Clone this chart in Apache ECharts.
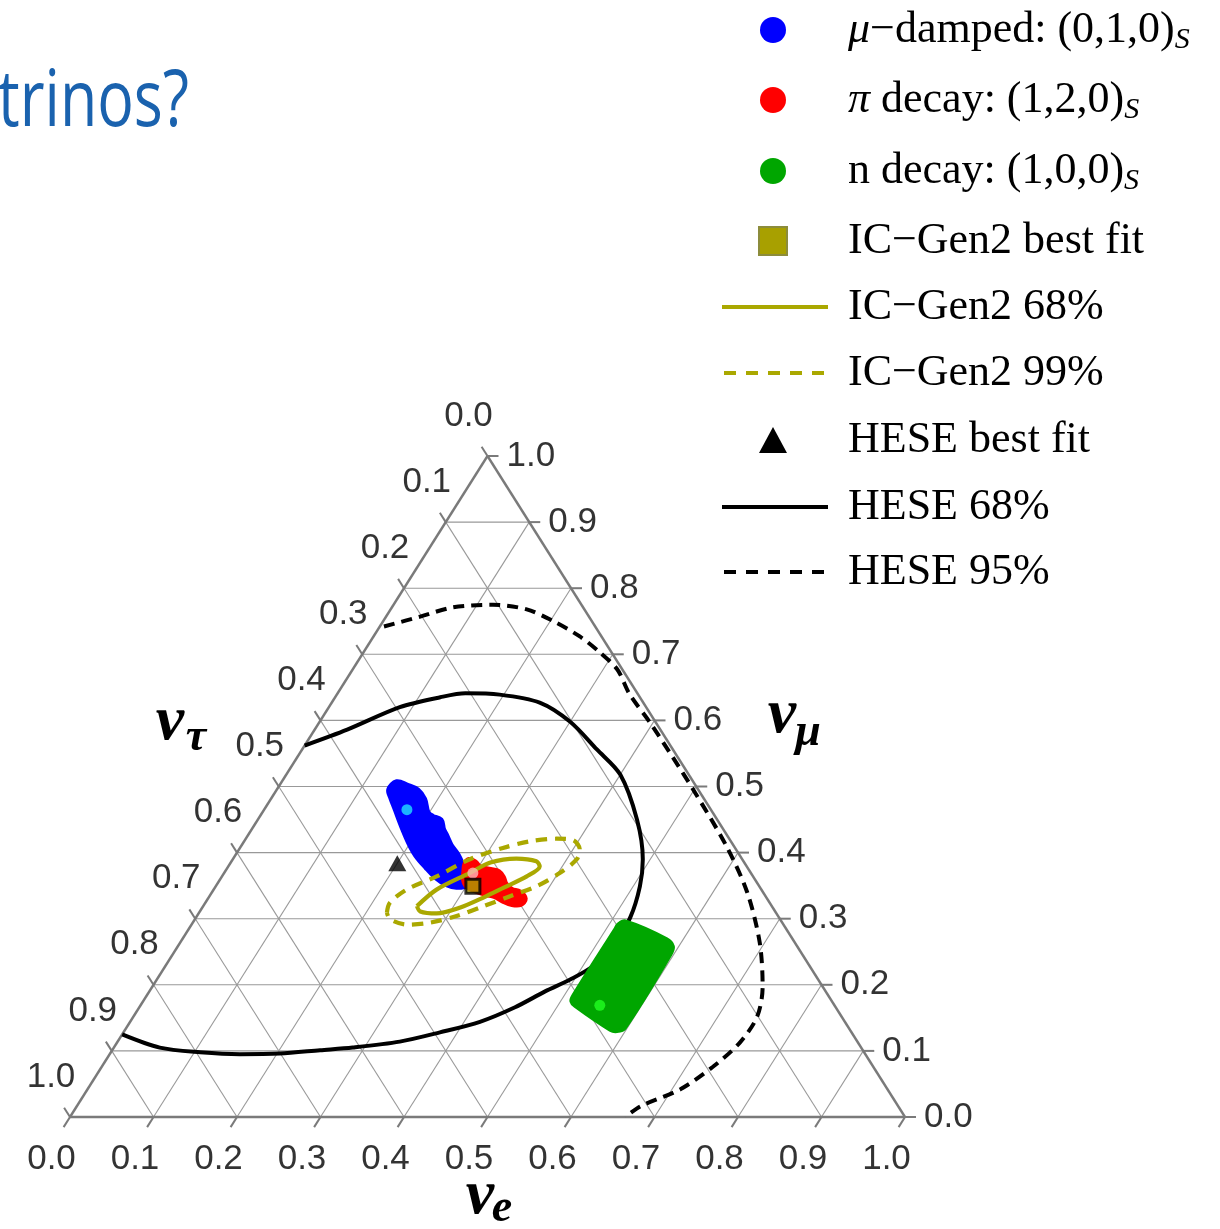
<!DOCTYPE html>
<html>
<head>
<meta charset="utf-8">
<script src="https://cdn.jsdelivr.net/npm/echarts@6/dist/echarts.min.js"></script>
<style>
html, body { margin: 0; padding: 0; background: #fff; }
#chart { width: 1220px; height: 1229px; }
</style>
</head>
<body>
<div id="chart"></div>
<script>
// Flavour compositions are stored as [f_e, f_mu]; f_tau = 1 - f_e - f_mu.
const tickValues = [0, 0.1, 0.2, 0.3, 0.4, 0.5, 0.6, 0.7, 0.8, 0.9, 1.0];
const tickLabels = ['0.0', '0.1', '0.2', '0.3', '0.4', '0.5', '0.6', '0.7', '0.8', '0.9', '1.0'];

// HESE 68% credible contour (open, runs from the left edge round to the left edge)
const hese68 = [
  [0.000, 0.562], [0.039, 0.586], [0.085, 0.620], [0.126, 0.635], [0.153, 0.641],
  [0.195, 0.639], [0.249, 0.627], [0.300, 0.598], [0.353, 0.556], [0.400, 0.518],
  [0.454, 0.450], [0.491, 0.390], [0.508, 0.349], [0.520, 0.302], [0.521, 0.264],
  [0.512, 0.228], [0.495, 0.208], [0.474, 0.190], [0.450, 0.166], [0.419, 0.144],
  [0.379, 0.128], [0.338, 0.114], [0.286, 0.105], [0.249, 0.101], [0.203, 0.096],
  [0.156, 0.095], [0.107, 0.098], [0.055, 0.105], [0.000, 0.125]
];

// HESE 95% credible contour
const hese95 = [
  [0.005, 0.742], [0.041, 0.757], [0.073, 0.771], [0.119, 0.775], [0.163, 0.768],
  [0.204, 0.750], [0.247, 0.727], [0.283, 0.703], [0.317, 0.677], [0.350, 0.640],
  [0.396, 0.597], [0.450, 0.544], [0.500, 0.494], [0.582, 0.409], [0.641, 0.340],
  [0.694, 0.264], [0.731, 0.197], [0.747, 0.152], [0.746, 0.113], [0.732, 0.076],
  [0.710, 0.042], [0.675, 0.016], [0.665, 0.000]
];

// IC-Gen2 projected 68% contour (closed)
const gen2_68 = [
  [0.256, 0.319], [0.267, 0.344], [0.294, 0.369], [0.311, 0.385], [0.339, 0.391],
  [0.365, 0.387], [0.373, 0.379], [0.365, 0.364], [0.346, 0.347], [0.329, 0.332],
  [0.309, 0.317], [0.285, 0.308], [0.264, 0.311], [0.256, 0.319]
];

// IC-Gen2 projected 99% contour (closed)
const gen2_99 = [
  [0.225, 0.309], [0.221, 0.324], [0.231, 0.344], [0.257, 0.364], [0.284, 0.390],
  [0.315, 0.407], [0.342, 0.417], [0.372, 0.421], [0.393, 0.419], [0.408, 0.405],
  [0.412, 0.390], [0.402, 0.369], [0.384, 0.349], [0.360, 0.334], [0.336, 0.319],
  [0.311, 0.304], [0.284, 0.294], [0.258, 0.291], [0.234, 0.299], [0.225, 0.309]
];

// Allowed regions at Earth for each source composition
const muDampedRegion = [
  [0.136, 0.495], [0.139, 0.505], [0.153, 0.500], [0.169, 0.493], [0.183, 0.480],
  [0.197, 0.460], [0.207, 0.453], [0.219, 0.448], [0.228, 0.435], [0.237, 0.425],
  [0.250, 0.410], [0.266, 0.395], [0.284, 0.374], [0.294, 0.362], [0.297, 0.352],
  [0.288, 0.350], [0.274, 0.354], [0.257, 0.364], [0.238, 0.379], [0.217, 0.397],
  [0.200, 0.415], [0.179, 0.440], [0.159, 0.465], [0.143, 0.485]
];
const piDecayRegion = [
  [0.283, 0.382], [0.284, 0.388], [0.292, 0.385], [0.302, 0.377], [0.317, 0.373],
  [0.328, 0.370], [0.337, 0.362], [0.345, 0.352], [0.357, 0.343], [0.369, 0.339],
  [0.379, 0.330], [0.378, 0.323], [0.368, 0.323], [0.355, 0.328], [0.341, 0.335],
  [0.330, 0.338], [0.318, 0.342], [0.302, 0.349], [0.293, 0.359], [0.287, 0.372]
];
const nDecayRegion = [
  [0.511, 0.291], [0.517, 0.296], [0.580, 0.269], [0.593, 0.258], [0.596, 0.246],
  [0.597, 0.135], [0.590, 0.130], [0.581, 0.132], [0.521, 0.168], [0.513, 0.175],
  [0.511, 0.183], [0.511, 0.284]
];

// Best-mixing compositions and best fits
const muDampedCentral = [0.171, 0.465];
const piDecayCentral = [0.298, 0.369];
const nDecayCentral = [0.550, 0.169];
const gen2BestFit = [0.308, 0.349];
const heseBestFit = [0.200, 0.384];

// ternary -> cartesian (x along the nu_e base, y = nu_mu height)
const toXY = p => [p[0] + p[1] / 2, p[1]];

const chart = echarts.init(document.getElementById('chart'), null, { renderer: 'canvas' });

const GRID_COLOR = '#999999';
const EDGE_COLOR = '#7a7a7a';
const OLIVE = '#aaa800';
const TICK_FONT = { fontFamily: 'Liberation Sans', fontSize: 35, color: '#000' };

function regionSeries(name, pts, color, edge, z) {
  return {
    type: 'custom', name, z, clip: false, silent: true,
    data: [[0, 0]],
    renderItem: (params, api) => ({
      type: 'polygon',
      shape: { points: pts.map(p => api.coord(toXY(p))), smooth: 0.35 },
      style: { fill: color, stroke: color, lineWidth: edge, lineJoin: 'round' }
    })
  };
}

function contourSeries(name, pts, color, width, dash, z) {
  return {
    type: 'line', name, z, clip: false, silent: true,
    data: pts.map(toXY),
    showSymbol: false, symbol: 'none', smooth: 0.3,
    lineStyle: { color, width, type: dash || 'solid', cap: 'butt' }
  };
}

function pointSeries(name, p, symbol, size, style, z) {
  return {
    type: 'scatter', name, z, clip: false, silent: true,
    data: [toXY(p)], symbol, symbolSize: size, itemStyle: style
  };
}

function tickLabelSeries(pointFn, align, offset) {
  return {
    type: 'scatter', z: 2, clip: false, silent: true,
    symbolSize: 0,
    data: tickValues.map((v, i) => ({ name: tickLabels[i], value: toXY(pointFn(v)) })),
    label: {
      show: true, position: 'inside', formatter: p => p.name,
      align, verticalAlign: 'middle', offset, ...TICK_FONT
    }
  };
}

// triangle frame, inner grid and tick stubs
const frameSeries = {
  type: 'custom', z: 1, clip: false, silent: true,
  data: [[0, 0]],
  renderItem: (params, api) => {
    const c = p => api.coord(toXY(p));
    const children = [];
    const seg = (a, b, color, w) => children.push({
      type: 'line', shape: { x1: a[0], y1: a[1], x2: b[0], y2: b[1] },
      style: { stroke: color, lineWidth: w }
    });
    tickValues.slice(1, -1).forEach(v => {
      seg(c([0, v]), c([1 - v, v]), GRID_COLOR, 1.1);      // constant nu_mu
      seg(c([v, 0]), c([v, 1 - v]), GRID_COLOR, 1.1);      // constant nu_e
      seg(c([0, 1 - v]), c([1 - v, 0]), GRID_COLOR, 1.1);  // constant nu_tau
    });
    seg(c([0, 0]), c([1, 0]), EDGE_COLOR, 2.4);
    seg(c([1, 0]), c([0, 1]), EDGE_COLOR, 2.4);
    seg(c([0, 1]), c([0, 0]), EDGE_COLOR, 2.4);
    tickValues.forEach(v => {
      const b = c([v, 0]);
      seg(b, [b[0] - 6.4, b[1] + 10.1], EDGE_COLOR, 2);
      const r = c([1 - v, v]);
      seg(r, [r[0] + 11, r[1]], EDGE_COLOR, 2);
      const l = c([0, 1 - v]);
      seg(l, [l[0] - 5.9, l[1] - 9.3], EDGE_COLOR, 2);
    });
    return { type: 'group', children };
  }
};

// legend rows
const LEG_X_MARK = 773, LEG_X_LINE0 = 722, LEG_X_LINE1 = 828, LEG_X_TEXT = 848;
const legendRows = [30, 100, 171, 241, 307, 373, 440, 507, 572];
const legendText = [
  '{i|μ}−damped: (0,1,0){s|S}',
  '{i|π} decay: (1,2,0){s|S}',
  'n decay: (1,0,0){s|S}',
  'IC−Gen2 best fit',
  'IC−Gen2 68%',
  'IC−Gen2 99%',
  'HESE best fit',
  'HESE 68%',
  'HESE 95%'
];
const legendFont = { fontFamily: 'Liberation Serif', fontSize: 44, fill: '#000' };
const legendRich = {
  i: { fontFamily: 'Liberation Serif', fontSize: 44, fontStyle: 'italic', lineHeight: 50 },
  s: { fontFamily: 'Liberation Serif', fontSize: 30, fontStyle: 'italic', lineHeight: 30, verticalAlign: 'bottom' }
};

const graphic = [];
legendText.forEach((t, i) => graphic.push({
  type: 'text', x: LEG_X_TEXT, y: legendRows[i],
  style: { text: t, ...legendFont, lineHeight: 50, verticalAlign: 'middle', align: 'left', rich: legendRich }
}));
[['#0000ff', 0], ['#ff0000', 1], ['#00a600', 2]].forEach(([col, i]) => graphic.push({
  type: 'circle', shape: { cx: LEG_X_MARK, cy: legendRows[i], r: 13 }, style: { fill: col }
}));
graphic.push({
  type: 'rect', shape: { x: LEG_X_MARK - 14, y: legendRows[3] - 14, width: 28, height: 28 },
  style: { fill: '#a8a000', stroke: '#8c8c3c', lineWidth: 2 }
});
graphic.push({
  type: 'line', shape: { x1: LEG_X_LINE0, y1: legendRows[4], x2: LEG_X_LINE1, y2: legendRows[4] },
  style: { stroke: OLIVE, lineWidth: 4 }
});
graphic.push({
  type: 'line', shape: { x1: LEG_X_LINE0 + 2, y1: legendRows[5], x2: LEG_X_LINE1, y2: legendRows[5] },
  style: { stroke: OLIVE, lineWidth: 4, lineDash: [12, 10] }
});
graphic.push({
  type: 'polygon',
  shape: { points: [[LEG_X_MARK - 14, legendRows[6] + 13], [LEG_X_MARK + 14, legendRows[6] + 13], [LEG_X_MARK, legendRows[6] - 13]] },
  style: { fill: '#000' }
});
graphic.push({
  type: 'line', shape: { x1: LEG_X_LINE0, y1: legendRows[7], x2: LEG_X_LINE1, y2: legendRows[7] },
  style: { stroke: '#000', lineWidth: 4 }
});
graphic.push({
  type: 'line', shape: { x1: LEG_X_LINE0 + 2, y1: legendRows[8], x2: LEG_X_LINE1, y2: legendRows[8] },
  style: { stroke: '#000', lineWidth: 4, lineDash: [12, 10] }
});

// axis names
const axisNameFont = { fontFamily: 'Liberation Serif', fontWeight: 'bold', fontStyle: 'italic', fill: '#000', align: 'center', verticalAlign: 'middle' };
[
  ['ν', 170, 722, 64], ['τ', 196, 738, 46],
  ['ν', 782, 715, 64], ['μ', 808, 733, 46],
  ['ν', 480, 1196, 64], ['e', 502, 1209, 46]
].forEach(([t, x, y, fs]) => graphic.push({
  type: 'text', x, y, style: { text: t, fontSize: fs, ...axisNameFont }
}));

// slide heading fragment
graphic.push({
  type: 'text', x: -2, y: 104, scaleX: 0.78, originX: 0,
  style: { text: 'trinos?', fontFamily: 'Open Sans', fontSize: 78, fill: '#1a62ae', verticalAlign: 'middle', align: 'left' }
});

const option = {
  animation: false,
  backgroundColor: '#fff',
  grid: { left: 70, top: 456, width: 835, height: 661 },
  xAxis: { type: 'value', min: 0, max: 1, show: false },
  yAxis: { type: 'value', min: 0, max: 1, show: false },
  graphic,
  series: [
    frameSeries,
    tickLabelSeries(v => [v, 0], 'center', [-18.5, 42]),          // nu_e along the base
    tickLabelSeries(v => [1 - v, v], 'left', [19, 0]),            // nu_mu on the right edge
    tickLabelSeries(v => [0, 1 - v], 'center', [-19, -40]),       // nu_tau on the left edge
    contourSeries('HESE 68%', hese68, '#000', 4, null, 3),
    contourSeries('HESE 95%', hese95, '#000', 4, [11, 7], 3),
    regionSeries('n decay', nDecayRegion, '#00a600', 4, 4),
    regionSeries('μ-damped', muDampedRegion, '#0000ff', 8, 4),
    regionSeries('π decay', piDecayRegion, '#ff0000', 7, 4),
    contourSeries('IC-Gen2 68%', gen2_68, OLIVE, 4.2, null, 5),
    contourSeries('IC-Gen2 99%', gen2_99, OLIVE, 4.2, [11, 8], 5),
    pointSeries('μ-damped central', muDampedCentral, 'circle', 11, { color: '#22e0ff' }, 6),
    pointSeries('π decay central', piDecayCentral, 'circle', 11, { color: '#ffb8b8' }, 6),
    pointSeries('n decay central', nDecayCentral, 'circle', 11, { color: '#22ff22' }, 6),
    pointSeries('HESE best fit', heseBestFit, 'triangle', [18, 16], { color: '#000' }, 6),
    pointSeries('IC-Gen2 best fit', gen2BestFit, 'rect', 14, { color: '#a8a000', borderColor: '#000', borderWidth: 3 }, 7)
  ]
};
chart.setOption(option);
</script>
</body>
</html>
